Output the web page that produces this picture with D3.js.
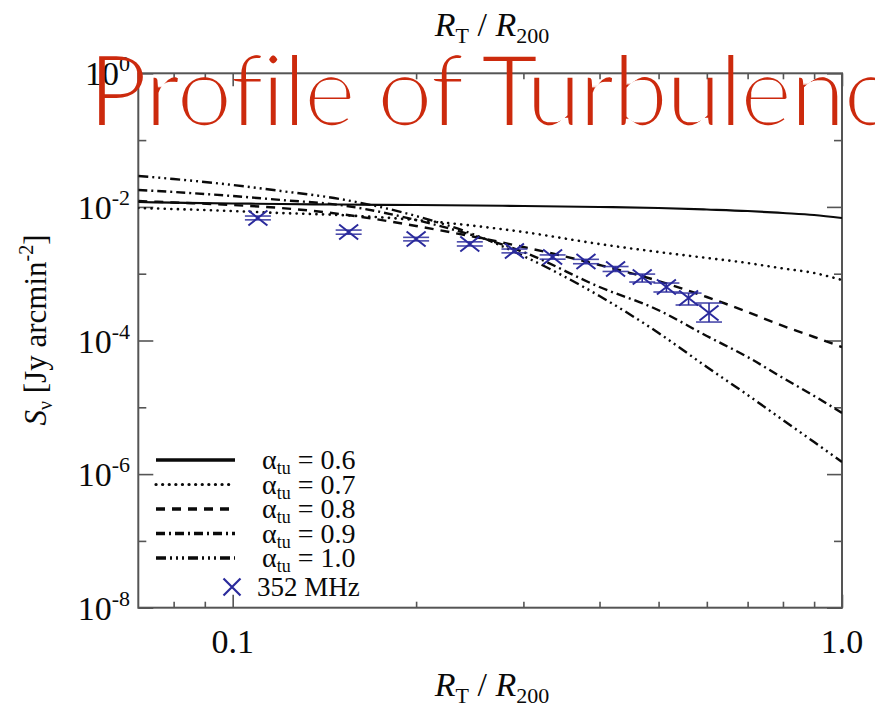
<!DOCTYPE html>
<html>
<head>
<meta charset="utf-8">
<script src="https://cdn.jsdelivr.net/npm/d3@7"></script>
<style>
  body { margin: 0; background: #ffffff; }
  svg { display: block; }
</style>
</head>
<body>
<svg id="chart" width="875" height="707"></svg>
<script>
// Radius grid (R_T / R_200) on which the model profiles are tabulated
const radius = [0.07, 0.08, 0.1, 0.12, 0.15, 0.2, 0.25, 0.3, 0.4, 0.5, 0.6, 0.7, 0.8, 0.9, 1.0];

// Model surface brightness S_nu [Jy arcmin^-2] for each turbulence index
const alpha06 = [0.01184, 0.01160, 0.01124, 0.01105, 0.01086, 0.01067, 0.01050, 0.01031, 0.00997, 0.00963, 0.00914, 0.00868, 0.00810, 0.00756, 0.00682];
const alpha07 = [0.00963, 0.00930, 0.00868, 0.00810, 0.00756, 0.00637, 0.00518, 0.00421, 0.00278, 0.00211, 0.00172, 0.001446, 0.001196, 0.001024, 0.000805];
const alpha08 = [0.01226, 0.01164, 0.01067, 0.00963, 0.00783, 0.00518, 0.00354, 0.00251, 0.001350, 0.000777, 0.000448, 0.000267, 0.000165, 0.0001128, 0.0000799];
const alpha09 = [0.01791, 0.01671, 0.01456, 0.01269, 0.01067, 0.00637, 0.00367, 0.00211, 0.000632, 0.000284, 0.0001168, 0.0000566, 0.0000275, 0.0000148, 0.00000822];
const alpha10 = [0.02902, 0.02616, 0.02128, 0.01730, 0.01313, 0.00731, 0.00380, 0.00184, 0.000463, 0.0001296, 0.0000401, 0.0000153, 0.00000645, 0.00000302, 0.00000152];

const seriesLabels = ["0.6", "0.7", "0.8", "0.9", "1.0"];

// 352 MHz measurements with error-bar limits
const obsRadius = [0.110, 0.155, 0.200, 0.245, 0.290, 0.335, 0.380, 0.425, 0.470, 0.515, 0.560, 0.605];
const obsFlux   = [0.00682, 0.00421, 0.00331, 0.00278, 0.00219, 0.00178, 0.00152, 0.001176, 0.000892, 0.000632, 0.000433, 0.000258];
const obsLow    = [0.0064, 0.0039, 0.0031, 0.0026, 0.00205, 0.00165, 0.00141, 0.00108, 0.00075, 0.000532, 0.00034, 0.000189];
const obsHigh   = [0.0073, 0.0045, 0.0035, 0.0030, 0.00234, 0.00191, 0.00164, 0.00128, 0.000987, 0.000725, 0.000513, 0.000364];
const obsLabel  = "352 MHz";

// Axis ticks
const xMajor = [0.1, 1.0];
const xMajorLabels = ["0.1", "1.0"];
const xMinor = [0.08, 0.09, 0.2, 0.3, 0.4, 0.5, 0.6, 0.7, 0.8, 0.9];
const yMajor = [1, 1e-2, 1e-4, 1e-6, 1e-8];
const yMajorExp = ["0", "-2", "-4", "-6", "-8"];
const yMinor = [1e-1, 1e-3, 1e-5, 1e-7];

const titleText = "Profile of Turbulence";

const svg = d3.select("#chart");
const plot = { left: 138.3, right: 842, top: 73.3, bottom: 607.7 };

const x = d3.scaleLog().domain([0.07, 1.0]).range([plot.left, plot.right]);
const y = d3.scaleLog().domain([1e-8, 1]).range([plot.bottom, plot.top]);

const frameColor = "#555";
const ink = "#0a0a0a";
const serif = "'Liberation Serif', 'Times New Roman', serif";

// Thin-stroke filter for the large slide title
const defs = svg.append("defs");
defs.append("filter").attr("id", "thin")
  .attr("x", "-5%").attr("y", "-20%").attr("width", "110%").attr("height", "140%")
  .append("feMorphology").attr("in", "SourceGraphic")
  .attr("operator", "erode").attr("radius", 2);

// Axes (ticks point inward on all four sides)
function styleAxis(g) {
  g.select(".domain").remove();
  g.selectAll(".tick line").attr("stroke", frameColor).attr("stroke-width", 1.6);
  g.selectAll(".tick text").remove();
}
function addAxis(axisFn, scale, values, size, pos, horizontal) {
  svg.append("g")
    .attr("transform", horizontal ? `translate(0,${pos})` : `translate(${pos},0)`)
    .call(axisFn(scale).tickValues(values).tickSize(-size).tickFormat(""))
    .call(styleAxis);
}
addAxis(d3.axisBottom, x, xMajor, 13, plot.bottom, true);
addAxis(d3.axisBottom, x, xMinor, 6, plot.bottom, true);
addAxis(d3.axisTop, x, xMajor, 13, plot.top, true);
addAxis(d3.axisTop, x, xMinor, 6, plot.top, true);
addAxis(d3.axisLeft, y, yMajor, 15, plot.left, false);
addAxis(d3.axisLeft, y, yMinor, 8, plot.left, false);
addAxis(d3.axisRight, y, yMajor, 15, plot.right, false);
addAxis(d3.axisRight, y, yMinor, 8, plot.right, false);

svg.append("rect")
  .attr("x", plot.left).attr("y", plot.top)
  .attr("width", plot.right - plot.left).attr("height", plot.bottom - plot.top)
  .attr("fill", "none").attr("stroke", frameColor).attr("stroke-width", 2);

// Tick labels
svg.append("g").selectAll("text").data(xMajor).join("text")
  .attr("x", d => x(d)).attr("y", 653)
  .attr("text-anchor", "middle")
  .attr("font-family", serif).attr("font-size", 34).attr("fill", ink)
  .text((d, i) => xMajorLabels[i]);

const yl = svg.append("g").selectAll("text").data(yMajor).join("text")
  .attr("x", 130).attr("y", d => y(d) + 12)
  .attr("text-anchor", "end")
  .attr("font-family", serif).attr("font-size", 34).attr("fill", ink);
yl.append("tspan").text("10");
yl.append("tspan").attr("dy", -14).attr("font-size", 22).text((d, i) => yMajorExp[i]);

// Axis titles
function radiusTitle(yPos) {
  const t = svg.append("text").attr("x", 492).attr("y", yPos)
    .attr("text-anchor", "middle").attr("font-family", serif)
    .attr("font-size", 34).attr("fill", ink);
  t.append("tspan").attr("font-style", "italic").text("R");
  t.append("tspan").attr("font-size", 22).attr("dy", 7).text("T");
  t.append("tspan").attr("dy", -7).text(" / ");
  t.append("tspan").attr("font-style", "italic").text("R");
  t.append("tspan").attr("font-size", 22).attr("dy", 7).text("200");
}
radiusTitle(36);
radiusTitle(696);

const yt = svg.append("text")
  .attr("transform", "translate(46,330) rotate(-90)")
  .attr("text-anchor", "middle").attr("font-family", serif)
  .attr("font-size", 31).attr("fill", ink);
yt.append("tspan").attr("font-style", "italic").text("S");
yt.append("tspan").attr("font-size", 20).attr("dy", 6).text("ν");
yt.append("tspan").attr("dy", -6).text(" [Jy arcmin");
yt.append("tspan").attr("font-size", 20).attr("dy", -13).text("-2");
yt.append("tspan").attr("dy", 13).text("]");

// Model curves
const styles = [
  { dash: null, width: 2.2, lw: 3.4 },
  { dash: "0.1 6.5", width: 2.6, lw: 3.2, cap: "round" },
  { dash: "9 7", width: 2.4, lw: 3.6 },
  { dash: "9 4 2 4", width: 2.4, lw: 3.6 },
  { dash: "10 4 2 4 2 4 2 4", width: 2.4, lw: 3.6 }
];
const allSeries = [alpha06, alpha07, alpha08, alpha09, alpha10];

defs.append("clipPath").attr("id", "plotclip")
  .append("rect").attr("x", plot.left).attr("y", plot.top)
  .attr("width", plot.right - plot.left).attr("height", plot.bottom - plot.top);

const line = d3.line()
  .x(d => x(d[0])).y(d => y(d[1]))
  .curve(d3.curveMonotoneX);

const curves = svg.append("g").attr("clip-path", "url(#plotclip)");
allSeries.forEach((s, i) => {
  curves.append("path")
    .datum(radius.map((r, k) => [r, s[k]]))
    .attr("d", line)
    .attr("fill", "none").attr("stroke", ink)
    .attr("stroke-width", styles[i].width)
    .attr("stroke-linecap", styles[i].cap || "butt")
    .attr("stroke-dasharray", styles[i].dash);
});

// Observations: error bars with caps and X markers
const blue = "#2a2a9c";
const obs = svg.append("g");
obsRadius.forEach((r, i) => {
  const cx = x(r), cy = y(obsFlux[i]);
  const y0 = y(obsLow[i]), y1 = y(obsHigh[i]);
  obs.append("line").attr("x1", cx).attr("x2", cx).attr("y1", y0).attr("y2", y1)
    .attr("stroke", blue).attr("stroke-width", 1.6);
  [y0, y1].forEach(yy => obs.append("line")
    .attr("x1", cx - 13).attr("x2", cx + 13).attr("y1", yy).attr("y2", yy)
    .attr("stroke", blue).attr("stroke-width", 1.6).attr("opacity", 0.85));
  obs.append("path")
    .attr("d", `M${cx - 9.5},${cy - 7.5}L${cx + 9.5},${cy + 7.5}M${cx - 9.5},${cy + 7.5}L${cx + 9.5},${cy - 7.5}`)
    .attr("stroke", blue).attr("stroke-width", 2).attr("fill", "none");
});

// Legend
const legend = svg.append("g");
const rowY = [460, 484.5, 509, 533.5, 558];
seriesLabels.forEach((lab, i) => {
  legend.append("line")
    .attr("x1", 156).attr("x2", 235).attr("y1", rowY[i]).attr("y2", rowY[i])
    .attr("stroke", ink).attr("stroke-width", styles[i].lw)
    .attr("stroke-linecap", styles[i].cap || "butt")
    .attr("stroke-dasharray", styles[i].dash);
  const t = legend.append("text").attr("x", 262).attr("y", rowY[i] + 9)
    .attr("font-family", serif).attr("font-size", 28).attr("fill", ink);
  t.append("tspan").text("α");
  t.append("tspan").attr("font-size", 18).attr("dy", 5).text("tu");
  t.append("tspan").attr("dy", -5).text(" = " + lab);
});
const mx = 232, my = 587;
legend.append("path")
  .attr("d", `M${mx - 8.5},${my - 8.5}L${mx + 8.5},${my + 8.5}M${mx - 8.5},${my + 8.5}L${mx + 8.5},${my - 8.5}`)
  .attr("stroke", blue).attr("stroke-width", 2.2).attr("fill", "none");
legend.append("text").attr("x", 257).attr("y", my + 9)
  .attr("font-family", serif).attr("font-size", 27).attr("fill", ink)
  .text(obsLabel);

// Slide title drawn over the figure
svg.append("g").attr("filter", "url(#thin)")
  .append("text")
  .attr("x", 88).attr("y", 127)
  .attr("font-family", "Lato, Roboto, 'Open Sans', sans-serif")
  .attr("font-size", 100)
  .attr("textLength", 852)
  .attr("lengthAdjust", "spacing")
  .style("font-variant-ligatures", "none")
  .attr("fill", "#cc2a10")
  .text(titleText);
</script>
</body>
</html>
